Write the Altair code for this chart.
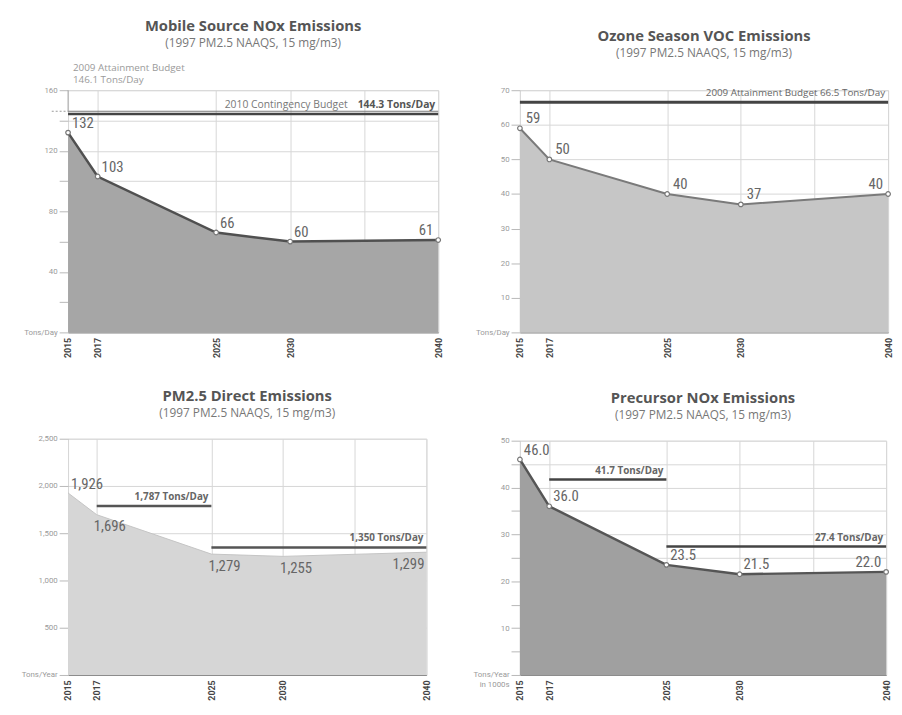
import altair as alt
import pandas as pd

# ---------------- data ----------------
years = [2015, 2017, 2025, 2030, 2040]
x_ticks = [2015, 2017, 2025, 2030, 2035, 2040]

mobile_nox = [132, 103, 66, 60, 61]
ozone_voc = [59, 50, 40, 37, 40]
pm25_direct = [1926, 1696, 1279, 1255, 1299]
precursor_nox = [46.0, 36.0, 23.5, 21.5, 22.0]

mobile_budget_start = [2015]
mobile_budget_end = [2040]
mobile_budget_value = [144.3]
mobile_budget_name = ["2010 Contingency Budget"]
mobile_budget_amount = ["144.3 Tons/Day"]
mobile_attainment_value = [146.1]
mobile_attainment_line1 = ["2009 Attainment Budget"]
mobile_attainment_line2 = ["146.1 Tons/Day"]

voc_budget_start = [2015]
voc_budget_end = [2040]
voc_budget_value = [66.5]
voc_budget_label = ["2009 Attainment Budget 66.5 Tons/Day"]

pm25_budget_start = [2017, 2025]
pm25_budget_end = [2025, 2040]
pm25_budget_value = [1787, 1350]
pm25_budget_label = ["1,787 Tons/Day", "1,350 Tons/Day"]

nox_budget_start = [2017, 2025]
nox_budget_end = [2025, 2040]
nox_budget_value = [41.7, 27.4]
nox_budget_label = ["41.7 Tons/Day", "27.4 Tons/Day"]

subtitle = "(1997 PM2.5 NAAQS, 15 mg/m3)"

TITLE_FONT = "Open Sans"
NUM_FONT = "Liberation Sans Narrow, Roboto Condensed, DejaVu Sans Condensed, sans-serif"


def make_panel(values, ymax, ystep, lstep, unit_expr, yfmt, fill,
               line_color, line_width, show_points):
    xscale = alt.Scale(domain=[2015, 2040], nice=False, zero=False)
    yscale = alt.Scale(domain=[0, ymax], nice=False, zero=True)
    xaxis = alt.Axis(values=x_ticks, format="d",
                     labelExpr="datum.value == 2035 ? '' : datum.label",
                     labelAngle=270, labelFlush=False, labelFontWeight="bold",
                     labelFontSize=9, labelColor="#444", labelFont="Roboto",
                     ticks=False, domain=True, domainColor="#888",
                     grid=True, gridColor="#d6d6d6", title=None,
                     labelPadding=5, labelOverlap=False)
    yaxis = alt.Axis(values=list(range(0, ymax + 1, ystep)),
                     labelExpr=(f"datum.value == 0 ? {unit_expr} : "
                                f"(datum.value % {lstep} == 0 ? format(datum.value, '{yfmt}') : '')"),
                     labelFontSize=8, labelColor="#9a9a9a", labelFont="Roboto",
                     tickSize=9, tickColor="#b8b8b8", domain=False,
                     grid=True, gridColor="#d6d6d6", title=None,
                     labelPadding=2, labelOverlap=False)

    def X(field):
        return alt.X(f"{field}:Q", scale=xscale, axis=xaxis)

    def Y(field):
        return alt.Y(f"{field}:Q", scale=yscale, axis=yaxis)

    df = pd.DataFrame({"year": years, "value": values})
    base = alt.Chart(df)
    layers = [base.mark_area(color=fill, opacity=1).encode(x=X("year"), y=Y("value"))]
    if line_width > 0:
        layers.append(base.mark_line(color=line_color, strokeWidth=line_width)
                      .encode(x=X("year"), y=Y("value")))
    if show_points:
        layers.append(base.mark_point(shape="circle", filled=True, fill="white",
                                      stroke="#777", strokeWidth=1.2, size=22, opacity=1)
                      .encode(x=X("year"), y=Y("value")))
    return layers, X, Y, base


def value_label(base, X, Y, fmt, filt, align, baseline, dx, dy, size=15):
    return (base.transform_filter(filt)
            .mark_text(align=align, baseline=baseline, dx=dx, dy=dy,
                       font=NUM_FONT, fontSize=size, color="#666")
            .encode(x=X("year"), y=Y("value"), text=alt.Text("value:Q", format=fmt)))


def title_params(text, offset):
    return alt.TitleParams(text=text, subtitle=subtitle, font=TITLE_FONT, fontSize=15,
                           fontWeight="bold", color="#555", subtitleFont=TITLE_FONT,
                           subtitleFontSize=12, subtitleColor="#777", subtitlePadding=4,
                           offset=offset, anchor="middle")


# ---------- panel 1: Mobile Source NOx ----------
l1, X1, Y1, b1 = make_panel(mobile_nox, 160, 20, 40, "'Tons/Day'", "d",
                            "#a6a6a6", "#505050", 2.5, True)
att_df = pd.DataFrame({"start": [2015], "end": [2040], "stub": [2013.9],
                       "value": mobile_attainment_value})
bud1 = pd.DataFrame({"start": mobile_budget_start, "end": mobile_budget_end,
                     "value": mobile_budget_value, "name": mobile_budget_name,
                     "amount": mobile_budget_amount})
ann1 = pd.DataFrame({"year": [2015], "top": [160], "low": mobile_attainment_value,
                     "line1": mobile_attainment_line1, "line2": mobile_attainment_line2})
l1 += [
    alt.Chart(att_df).mark_rule(color="#777", strokeWidth=1).encode(
        x=X1("start"), x2="end:Q", y=Y1("value")),
    alt.Chart(att_df).mark_rule(color="#999", strokeWidth=1, strokeDash=[2, 2]).encode(
        x=X1("stub"), x2="start:Q", y=Y1("value")),
    alt.Chart(bud1).mark_rule(color="#444", strokeWidth=2.5).encode(
        x=X1("start"), x2="end:Q", y=Y1("value")),
    alt.Chart(bud1).mark_text(align="right", baseline="bottom", dx=-3, dy=-4,
                              fontWeight="bold", fontSize=10.5, color="#555",
                              font=TITLE_FONT).encode(
        x=X1("end"), y=Y1("value"), text="amount:N"),
    alt.Chart(bud1).mark_text(align="right", baseline="bottom", dx=-92, dy=-4,
                              fontSize=10.5, color="#777", font=TITLE_FONT).encode(
        x=X1("end"), y=Y1("value"), text="name:N"),
    alt.Chart(ann1).mark_rule(color="#aaa", strokeWidth=1).encode(
        x=X1("year"), y=Y1("low"), y2="top:Q"),
    alt.Chart(ann1).mark_text(align="left", baseline="bottom", dx=5, dy=-18,
                              fontSize=10, color="#9a9a9a", font=TITLE_FONT).encode(
        x=X1("year"), y=Y1("top"), text="line1:N"),
    alt.Chart(ann1).mark_text(align="left", baseline="bottom", dx=5, dy=-5,
                              fontSize=10, color="#9a9a9a", font=TITLE_FONT).encode(
        x=X1("year"), y=Y1("top"), text="line2:N"),
    value_label(b1, X1, Y1, "d", "datum.year < 2040", "left", "bottom", 4, -2),
    value_label(b1, X1, Y1, "d", "datum.year == 2040", "right", "bottom", -5, -2),
]
c1 = alt.layer(*l1).properties(width=376, height=246,
                               title=title_params("Mobile Source NOx Emissions", 14))

# ---------- panel 2: Ozone Season VOC ----------
l2, X2, Y2, b2 = make_panel(ozone_voc, 70, 10, 10, "'Tons/Day'", "d",
                            "#c6c6c6", "#7a7a7a", 2, True)
bud2 = pd.DataFrame({"start": voc_budget_start, "end": voc_budget_end,
                     "value": voc_budget_value, "label": voc_budget_label})
l2 += [
    alt.Chart(bud2).mark_rule(color="#444", strokeWidth=3).encode(
        x=X2("start"), x2="end:Q", y=Y2("value")),
    alt.Chart(bud2).mark_text(align="right", baseline="bottom", dx=-3, dy=-4,
                              fontSize=10, color="#666", font=TITLE_FONT).encode(
        x=X2("end"), y=Y2("value"), text="label:N"),
    value_label(b2, X2, Y2, "d", "datum.year < 2040", "left", "bottom", 6, -2),
    value_label(b2, X2, Y2, "d", "datum.year == 2040", "right", "bottom", -5, -2),
]
c2 = alt.layer(*l2).properties(width=374, height=246,
                               title=title_params("Ozone Season VOC Emissions", 28))

# ---------- panel 3: PM2.5 Direct ----------
l3, X3, Y3, b3 = make_panel(pm25_direct, 2500, 500, 500, "'Tons/Year'", ",",
                            "#d6d6d6", "#c4c4c4", 1, False)
bud3 = pd.DataFrame({"start": pm25_budget_start, "end": pm25_budget_end,
                     "value": pm25_budget_value, "label": pm25_budget_label})
l3 += [
    alt.Chart(bud3).mark_rule(color="#555", strokeWidth=2.5).encode(
        x=X3("start"), x2="end:Q", y=Y3("value")),
    alt.Chart(bud3).mark_text(align="right", baseline="bottom", dx=-3, dy=-4,
                              fontSize=10, fontWeight="bold", color="#666",
                              font=TITLE_FONT).encode(
        x=X3("end"), y=Y3("value"), text="label:N"),
    value_label(b3, X3, Y3, ",", "datum.year == 2015", "left", "bottom", 3, -1),
    value_label(b3, X3, Y3, ",", "datum.year > 2015 && datum.year < 2040", "left", "top", -3, 5),
    value_label(b3, X3, Y3, ",", "datum.year == 2040", "right", "top", -2, 5),
]
c3 = alt.layer(*l3).properties(width=364, height=240,
                               title=title_params("PM2.5 Direct Emissions", 16))

# ---------- panel 4: Precursor NOx ----------
l4, X4, Y4, b4 = make_panel(precursor_nox, 50, 5, 10,
                            "['Tons/Year', 'in 1000s']", "d",
                            "#a0a0a0", "#555555", 2.5, True)
bud4 = pd.DataFrame({"start": nox_budget_start, "end": nox_budget_end,
                     "value": nox_budget_value, "label": nox_budget_label})
l4 += [
    alt.Chart(bud4).mark_rule(color="#444", strokeWidth=2.5).encode(
        x=X4("start"), x2="end:Q", y=Y4("value")),
    alt.Chart(bud4).mark_text(align="right", baseline="bottom", dx=-3, dy=-4,
                              fontSize=10, fontWeight="bold", color="#666",
                              font=TITLE_FONT).encode(
        x=X4("end"), y=Y4("value"), text="label:N"),
    value_label(b4, X4, Y4, ".1f", "datum.year < 2040", "left", "bottom", 4, -2),
    value_label(b4, X4, Y4, ".1f", "datum.year == 2040", "right", "bottom", -5, -2),
]
c4 = alt.layer(*l4).properties(width=372, height=238,
                               title=title_params("Precursor NOx Emissions", 16))

col_left = alt.vconcat(c1, c3, spacing=30)
col_right = alt.vconcat(c2, c4, spacing=32)

chart = (alt.hconcat(col_left, col_right, spacing=28)
         .properties(padding={"left": 12, "top": 5, "right": 0, "bottom": 0})
         .configure_view(stroke="#c8c8c8", strokeWidth=1)
         .configure(background="white"))

chart.save("out.html", embed_options={"renderer": "svg", "actions": False})
